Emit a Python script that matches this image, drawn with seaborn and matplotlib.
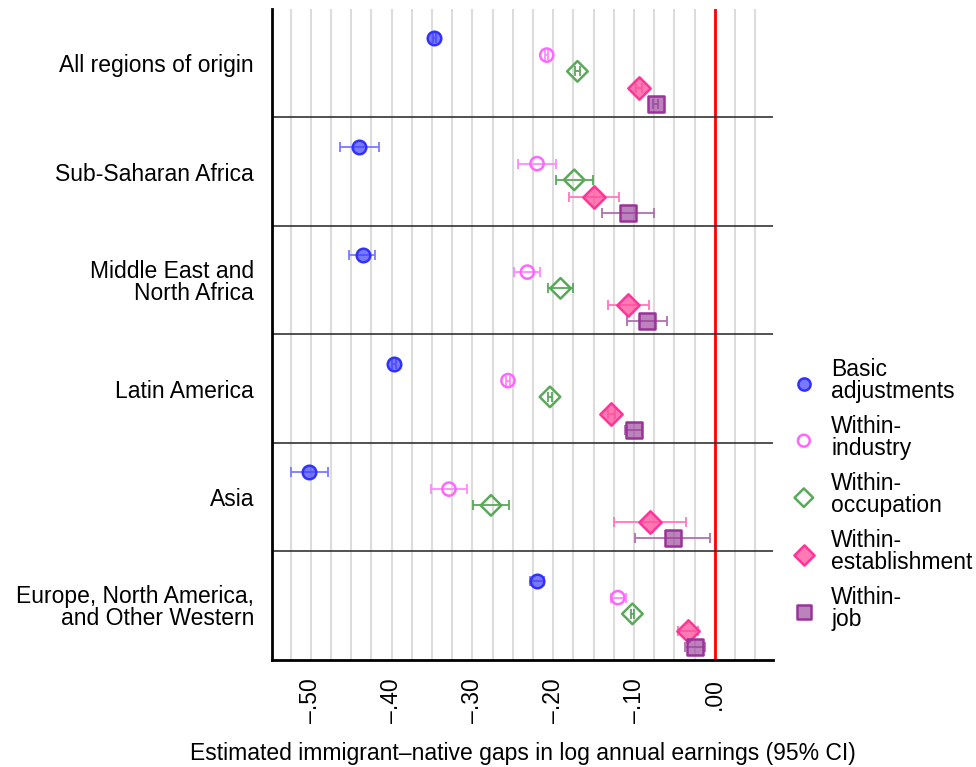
import numpy as np
import pandas as pd
import matplotlib.pyplot as plt
import seaborn as sns

# regions of origin (top to bottom)
regions = ['All regions of origin', 'Sub-Saharan Africa', 'Middle East and\nNorth Africa',
           'Latin America', 'Asia', 'Europe, North America,\nand Other Western']
models = ['Basic\nadjustments', 'Within-\nindustry', 'Within-\noccupation',
          'Within-\nestablishment', 'Within-\njob']

# point estimates per model, one value per region
basic_est = [-0.347, -0.440, -0.436, -0.397, -0.502, -0.220]
basic_lo = [-0.349, -0.464, -0.453, -0.400, -0.525, -0.229]
basic_hi = [-0.345, -0.416, -0.420, -0.394, -0.479, -0.211]

industry_est = [-0.208, -0.220, -0.232, -0.256, -0.329, -0.120]
industry_lo = [-0.210, -0.243, -0.248, -0.259, -0.351, -0.129]
industry_hi = [-0.206, -0.197, -0.216, -0.253, -0.307, -0.110]

occupation_est = [-0.170, -0.174, -0.191, -0.204, -0.277, -0.102]
occupation_lo = [-0.173, -0.196, -0.207, -0.207, -0.299, -0.104]
occupation_hi = [-0.167, -0.151, -0.176, -0.201, -0.255, -0.100]

establishment_est = [-0.094, -0.150, -0.107, -0.128, -0.080, -0.033]
establishment_lo = [-0.098, -0.181, -0.132, -0.132, -0.125, -0.045]
establishment_hi = [-0.090, -0.118, -0.082, -0.124, -0.036, -0.021]

job_est = [-0.073, -0.108, -0.084, -0.100, -0.052, -0.024]
job_lo = [-0.076, -0.140, -0.109, -0.111, -0.099, -0.037]
job_hi = [-0.070, -0.075, -0.059, -0.090, -0.006, -0.012]

estimates = [basic_est, industry_est, occupation_est, establishment_est, job_est]
lows = [basic_lo, industry_lo, occupation_lo, establishment_lo, job_lo]
highs = [basic_hi, industry_hi, occupation_hi, establishment_hi, job_hi]

# vertical offset of each model inside a region band
offsets = [-0.23, -0.075, 0.075, 0.23, 0.38]

rows = []
for m, model in enumerate(models):
    for r, region in enumerate(regions):
        rows.append({'model': model, 'region': region, 'gap': estimates[m][r],
                     'lo': lows[m][r], 'hi': highs[m][r], 'ypos': r + offsets[m]})
df = pd.DataFrame(rows)

# style per model: marker, face, edge, errorbar colour, size
styles = {
    models[0]: dict(marker='o', face=(0.25, 0.25, 1.0, 0.7), edge='#3030ff', err='#7a7aff', s=95),
    models[1]: dict(marker='o', face='none', edge='#ff66ff', err='#ff88ff', s=90),
    models[2]: dict(marker='D', face='none', edge='#5aa85a', err='#5aa85a', s=110),
    models[3]: dict(marker='D', face=(1.0, 0.3, 0.6, 0.75), edge='#ff3399', err='#ff77bb', s=130),
    models[4]: dict(marker='s', face=(0.6, 0.25, 0.6, 0.65), edge='#993399', err='#b070b0', s=120),
}

FS = 16.5

sns.set_style('white')
plt.rcParams['font.family'] = ['Liberation Sans', 'DejaVu Sans']
plt.rcParams['text.color'] = 'black'
plt.rcParams['axes.labelcolor'] = 'black'
plt.rcParams['xtick.color'] = 'black'
plt.rcParams['ytick.color'] = 'black'

fig = plt.figure(figsize=(9.76, 7.67), dpi=100)
ax = fig.add_axes([0.2787, 0.1395, 0.5133, 0.8488])

for model in models:
    sub = df[df['model'] == model]
    st = styles[model]
    ax.errorbar(sub['gap'], sub['ypos'], xerr=[sub['gap'] - sub['lo'], sub['hi'] - sub['gap']],
                fmt='none', ecolor=st['err'], elinewidth=1.3, capsize=3.5, capthick=1.3, zorder=3)
    sns.scatterplot(data=sub, x='gap', y='ypos', ax=ax, marker=st['marker'], s=st['s'],
                    facecolor=st['face'], edgecolor=st['edge'], linewidth=1.8,
                    label=model, zorder=4)

ax.axvline(0, color='red', lw=2, zorder=2)
for i in range(len(regions) - 1):
    ax.axhline(i + 0.5, color='#333333', lw=1.2, zorder=2)

ax.set_ylim(len(regions) - 0.5, -0.5)
ax.set_xlim(-0.548, 0.072)
ax.set_yticks(range(len(regions)))
ax.set_yticklabels(regions, fontsize=FS, linespacing=0.95)

xticks = [-0.5, -0.4, -0.3, -0.2, -0.1, 0.0]
xlabels = ['\u2013.50', '\u2013.40', '\u2013.30', '\u2013.20', '\u2013.10', '.00']
ax.set_xticks(xticks)
ax.set_xticklabels(xlabels, rotation=90, fontsize=FS)
ax.set_xticks(np.arange(-0.525, 0.07, 0.025), minor=True)
ax.grid(which='both', axis='x', color='#dcdcdc', lw=1.5, zorder=0)
ax.grid(False, axis='y')
ax.set_axisbelow(True)

ax.tick_params(axis='both', which='major', length=8, width=2, color='black', direction='out', pad=5)
ax.tick_params(axis='x', which='minor', length=0)

for side in ['top', 'right']:
    ax.spines[side].set_visible(False)
for side in ['left', 'bottom']:
    ax.spines[side].set_color('black')
    ax.spines[side].set_linewidth(2)

ax.set_xlabel('Estimated immigrant\u2013native gaps in log annual earnings (95% CI)',
              fontsize=FS, labelpad=14)
ax.set_ylabel('')

handles, labels = ax.get_legend_handles_labels()
ax.get_legend().remove()
leg = fig.legend(handles, labels, loc='center left', bbox_to_anchor=(0.779, 0.355), frameon=False,
                 fontsize=FS, labelspacing=0.52, handletextpad=0.2, markerscale=0.9)
for t in leg.get_texts():
    t.set_linespacing(0.95)

plt.savefig('out.png', dpi=100)
